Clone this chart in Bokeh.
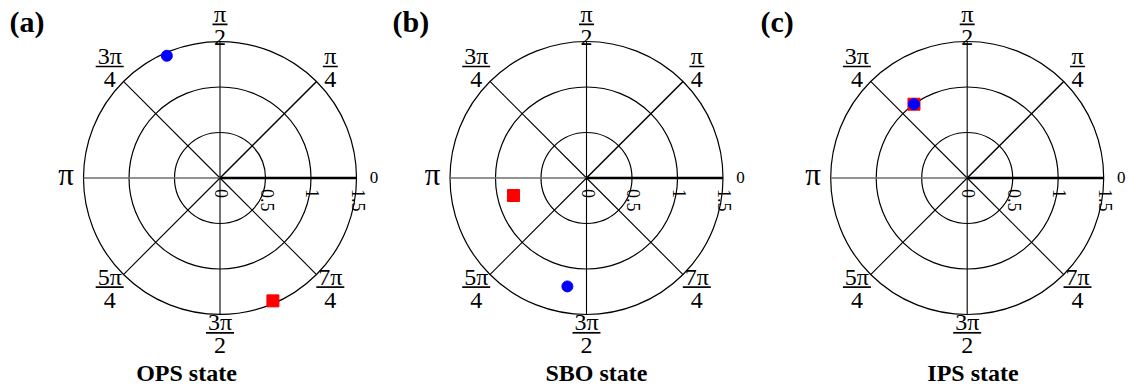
import numpy as np
from bokeh.plotting import figure
from bokeh.models import Range1d
from bokeh.core.properties import value
from bokeh.embed import file_html
from bokeh.resources import INLINE

# ---- data -------------------------------------------------------------
panel_tags = ["(a)", "(b)", "(c)"]
panel_names = ["OPS state", "SBO state", "IPS state"]

# polar position (radius, angle in degrees) of the two markers per state
square_r = [1.47, 0.825, 1.0]
square_deg = [293.3, 193.5, 125.8]
circle_r = [1.465, 1.21, 1.0]
circle_deg = [113.5, 260.0, 125.8]

ring_radii = [0.5, 1.0, 1.5]
ring_labels = ["0", "0.5", "1", "1.5"]
ring_label_pos = [0.0, 0.5, 1.0, 1.5]
spoke_deg = [0, 45, 90, 135, 180, 225, 270, 315]
spoke_num = ["0", "π", "π", "3π", "π", "5π", "3π", "7π"]
spoke_den = ["", "4", "2", "4", "", "4", "2", "4"]

# ---- layout -----------------------------------------------------------
W, H = 1128, 390
PX = 91.0                      # pixels per radial unit
R_MAX = 1.5
centers_px = [(219.5, 177.5), (586.0, 177.5), (966.7, 177.5)]
tag_left_px = [9, 392, 760]
name_center_px = [186, 596, 972.5]

SERIF = value("Liberation Serif")
FRAC_SIZE = 24                 # px, fraction numerals
NUM_GAP = 10.5                 # px from bar to numerator middle
DEN_GAP = 13.0                 # px from bar to denominator middle


def u(px):
    return px / PX


def to_xy(px_x, px_y):
    return u(px_x), u(H - px_y)


p = figure(width=W, height=H, x_range=Range1d(0, u(W)), y_range=Range1d(0, u(H)),
           x_axis_type=None, y_axis_type=None, toolbar_location=None,
           output_backend="svg", min_border=0, background_fill_color="white",
           border_fill_color="white")
p.outline_line_color = None
p.grid.visible = False

# highest allowed bar position so a numerator stays inside the canvas
bar_top_limit = u(H) - u(FRAC_SIZE * 0.56 + NUM_GAP)

for i in range(3):
    cx, cy = to_xy(*centers_px[i])

    # concentric rings
    p.circle(x=[cx] * len(ring_radii), y=[cy] * len(ring_radii), radius=ring_radii,
             fill_color=None, line_color="black", line_width=1.2)

    # spokes from the pole to the outer ring
    th = np.deg2rad(spoke_deg)
    widths = [2.6 if d == 0 else (1.5 if d == 45 else (1.6 if d == 180 else 1.1)) for d in spoke_deg]
    colors = ["#6e6e6e" if d == 180 else "black" for d in spoke_deg]
    p.segment(x0=[cx] * len(th), y0=[cy] * len(th),
              x1=cx + R_MAX * np.cos(th), y1=cy + R_MAX * np.sin(th),
              line_color=colors, line_width=widths)

    # radial tick labels, rotated, hanging below the zero-angle spoke
    p.text(x=[cx + r + u(1.5) for r in ring_label_pos], y=[cy - u(11)] * len(ring_label_pos),
           text=ring_labels, angle=-np.pi / 2, text_align="left", text_baseline="middle",
           text_font=SERIF, text_font_size=value("18px"), text_color="black")

    # angular tick labels
    for d, num, den in zip(spoke_deg, spoke_num, spoke_den):
        t = np.deg2rad(d)
        if den == "":
            rr = R_MAX + u(154 - 136.5)
            lx, ly = cx + rr * np.cos(t), cy + rr * np.sin(t)
            size = "31px" if num == "π" else "17px"
            lift = 4.0 if num == "π" else 1.0
            p.text(x=[lx], y=[ly + u(lift)], text=[num], text_align="center",
                   text_baseline="middle", text_font=SERIF,
                   text_font_size=value(size), text_color="black")
        else:
            rr = R_MAX + u(156 - 136.5)
            lx, ly = cx + rr * np.cos(t), cy + rr * np.sin(t)
            by = min(ly + u(1.2), bar_top_limit)
            half = u((13 * len(num) + 2) / 2)
            p.segment(x0=[lx - half], y0=[by], x1=[lx + half], y1=[by],
                      line_color="black", line_width=1.7)
            p.text(x=[lx], y=[by + u(NUM_GAP)], text=[num], text_align="center",
                   text_baseline="middle", text_font=SERIF,
                   text_font_size=value(f"{FRAC_SIZE}px"), text_color="black")
            p.text(x=[lx], y=[by - u(DEN_GAP)], text=[den], text_align="center",
                   text_baseline="middle", text_font=SERIF,
                   text_font_size=value(f"{FRAC_SIZE}px"), text_color="black")

    # state markers
    ts = np.deg2rad(square_deg[i])
    tc = np.deg2rad(circle_deg[i])
    p.scatter(x=[cx + square_r[i] * np.cos(ts)], y=[cy + square_r[i] * np.sin(ts)],
              marker="square", size=12, fill_color="#ff0000", line_color="#ff0000")
    p.scatter(x=[cx + circle_r[i] * np.cos(tc)], y=[cy + circle_r[i] * np.sin(tc)],
              marker="circle", size=11, fill_color="#0000ff", line_color="#0000ff")

    # panel tag and caption
    tx, ty = to_xy(tag_left_px[i], 21)
    p.text(x=[tx], y=[ty], text=[panel_tags[i]], text_align="left",
           text_baseline="middle", text_font=SERIF, text_font_style="bold",
           text_font_size=value("30px"), text_color="black")
    nx, ny = to_xy(name_center_px[i], 372)
    p.text(x=[nx], y=[ny], text=[panel_names[i]], text_align="center",
           text_baseline="middle", text_font=SERIF, text_font_style="bold",
           text_font_size=value("24px"), text_color="black")

open("out.html", "w").write(file_html(p, INLINE))
